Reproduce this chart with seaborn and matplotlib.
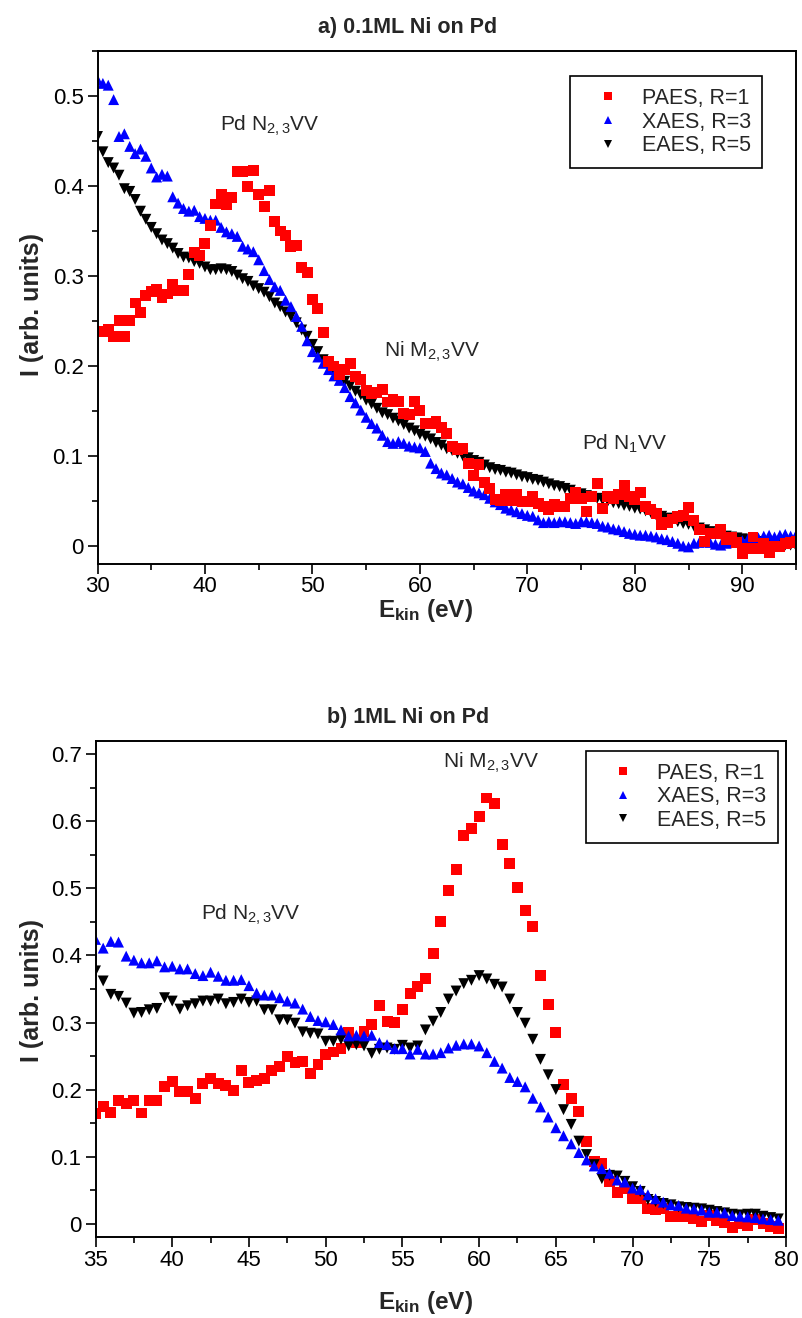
import numpy as np
import pandas as pd
import matplotlib
matplotlib.use("Agg")
import matplotlib.pyplot as plt
import seaborn as sns
from matplotlib.ticker import MultipleLocator, FuncFormatter

sns.set_style("ticks")
plt.rcParams["font.family"] = ["Liberation Sans", "DejaVu Sans"]
plt.rcParams.update({
    "mathtext.fontset": "custom",
    "mathtext.rm": "Liberation Sans",
    "mathtext.it": "Liberation Sans:italic",
    "mathtext.bf": "Liberation Sans:bold",
    "axes.edgecolor": "black",
    "xtick.color": "black",
    "ytick.color": "black",
})

LABELS = ["PAES, R=1", "XAES, R=3", "EAES, R=5"]
COLORS = {"PAES, R=1": "#ff0000", "XAES, R=3": "#0000ff", "EAES, R=5": "#000000"}
MARKERS = {"PAES, R=1": "s", "XAES, R=3": "^", "EAES, R=5": "v"}

# ---- a) 0.1 ML Ni on Pd : spectra on a 0.5 eV grid ----
STEP = 0.5
paes_a_start = 30.5
paes_a = [0.238, 0.241, 0.233, 0.251, 0.233, 0.251, 0.270, 0.259, 0.278, 0.283,
          0.285, 0.276, 0.280, 0.291, 0.284, 0.284, 0.302, 0.326, 0.323, 0.336,
          0.356, 0.380, 0.391, 0.379, 0.387, 0.416, 0.416, 0.399, 0.417, 0.391,
          0.377, 0.395, 0.361, 0.350, 0.345, 0.333, 0.334, 0.309, 0.304, 0.274,
          0.264, 0.237, 0.205, 0.200, 0.190, 0.196, 0.203, 0.188, 0.185, 0.173,
          0.169, 0.171, 0.174, 0.160, 0.163, 0.161, 0.147, 0.146, 0.161, 0.151,
          0.136, 0.136, 0.138, 0.132, 0.125, 0.111, 0.107, 0.108, 0.092, 0.078,
          0.091, 0.071, 0.064, 0.052, 0.051, 0.057, 0.051, 0.057, 0.049, 0.049,
          0.055, 0.047, 0.044, 0.040, 0.046, 0.044, 0.044, 0.053, 0.059, 0.053,
          0.038, 0.055, 0.069, 0.042, 0.055, 0.053, 0.057, 0.067, 0.055, 0.052,
          0.059, 0.044, 0.041, 0.036, 0.024, 0.026, 0.030, 0.033, 0.034, 0.043,
          0.028, 0.018, 0.005, 0.014, 0.014, 0.018, 0.007, 0.010, 0.004, -0.008,
          -0.003, 0.010, -0.003, 0.003, -0.007, -0.001, -0.001, 0.003, 0.004, 0.005]

xaes_a_start = 30.0
xaes_a = [0.518, 0.514, 0.512, 0.496, 0.455, 0.458, 0.444, 0.436, 0.441, 0.433,
          0.420, 0.410, 0.413, 0.411, 0.388, 0.381, 0.375, 0.372, 0.373, 0.366,
          0.364, 0.362, 0.362, 0.354, 0.349, 0.347, 0.344, 0.333, 0.330, 0.327,
          0.318, 0.306, 0.296, 0.288, 0.284, 0.273, 0.266, 0.255, 0.244, 0.228,
          0.216, 0.210, 0.203, 0.196, 0.189, 0.184, 0.176, 0.166, 0.159, 0.151,
          0.143, 0.136, 0.131, 0.123, 0.116, 0.114, 0.116, 0.114, 0.111, 0.110,
          0.109, 0.105, 0.092, 0.086, 0.081, 0.079, 0.075, 0.071, 0.069, 0.065,
          0.061, 0.059, 0.057, 0.053, 0.049, 0.046, 0.042, 0.040, 0.038, 0.036,
          0.034, 0.033, 0.029, 0.026, 0.027, 0.026, 0.027, 0.027, 0.026, 0.025,
          0.027, 0.027, 0.026, 0.025, 0.022, 0.021, 0.019, 0.018, 0.016, 0.014,
          0.013, 0.012, 0.012, 0.011, 0.010, 0.008, 0.007, 0.005, 0.003, 0.000,
          -0.001, 0.003, 0.004, 0.005, 0.004, 0.002, 0.001, 0.003, 0.004, 0.005,
          0.006, 0.007, 0.008, 0.009, 0.011, 0.012, 0.010, 0.012, 0.013, 0.011,
          0.012]

eaes_a_start = 30.0
eaes_a = [0.455, 0.438, 0.426, 0.420, 0.412, 0.397, 0.394, 0.385, 0.372, 0.363,
          0.354, 0.347, 0.340, 0.336, 0.331, 0.325, 0.321, 0.320, 0.316, 0.314,
          0.310, 0.307, 0.307, 0.308, 0.307, 0.305, 0.301, 0.297, 0.294, 0.289,
          0.286, 0.282, 0.277, 0.270, 0.266, 0.260, 0.255, 0.248, 0.240, 0.233,
          0.224, 0.216, 0.207, 0.200, 0.193, 0.188, 0.183, 0.178, 0.172, 0.168,
          0.162, 0.158, 0.153, 0.148, 0.146, 0.142, 0.139, 0.135, 0.131, 0.128,
          0.124, 0.122, 0.119, 0.115, 0.112, 0.108, 0.106, 0.103, 0.100, 0.098,
          0.095, 0.093, 0.090, 0.087, 0.085, 0.084, 0.082, 0.081, 0.079, 0.077,
          0.076, 0.074, 0.073, 0.071, 0.069, 0.067, 0.066, 0.064, 0.062, 0.059,
          0.058, 0.056, 0.055, 0.053, 0.051, 0.050, 0.048, 0.047, 0.045, 0.044,
          0.042, 0.041, 0.039, 0.037, 0.034, 0.033, 0.031, 0.029, 0.027, 0.025,
          0.024, 0.022, 0.020, 0.018, 0.016, 0.014, 0.013, 0.011, 0.010, 0.009,
          0.008, 0.007, 0.006, 0.005, 0.004, 0.004, 0.003, 0.002, 0.001, 0.001,
          0.000]

# ---- b) 1 ML Ni on Pd ----
paes_b_start = 35.0
paes_b = [0.164, 0.175, 0.166, 0.183, 0.179, 0.183, 0.165, 0.183, 0.184, 0.204,
          0.212, 0.197, 0.197, 0.187, 0.209, 0.216, 0.209, 0.206, 0.199, 0.228,
          0.211, 0.213, 0.216, 0.229, 0.235, 0.249, 0.241, 0.242, 0.224, 0.237,
          0.252, 0.256, 0.261, 0.285, 0.270, 0.287, 0.297, 0.325, 0.302, 0.300,
          0.319, 0.343, 0.354, 0.366, 0.403, 0.451, 0.497, 0.528, 0.579, 0.590,
          0.608, 0.635, 0.627, 0.566, 0.537, 0.502, 0.467, 0.443, 0.370, 0.327,
          0.285, 0.207, 0.187, 0.167, 0.123, 0.093, 0.089, 0.063, 0.047, 0.053,
          0.037, 0.038, 0.023, 0.021, 0.022, 0.011, 0.011, 0.010, 0.008, 0.003,
          0.012, 0.005, 0.002, -0.006, 0.000, -0.003, 0.006, 0.000, -0.005, -0.008]

xaes_b_start = 35.0
xaes_b = [0.424, 0.411, 0.421, 0.420, 0.399, 0.393, 0.389, 0.389, 0.392, 0.383,
          0.384, 0.380, 0.380, 0.373, 0.370, 0.375, 0.369, 0.363, 0.363, 0.364,
          0.355, 0.344, 0.341, 0.341, 0.337, 0.332, 0.329, 0.320, 0.309, 0.303,
          0.301, 0.297, 0.289, 0.280, 0.281, 0.280, 0.281, 0.270, 0.267, 0.261,
          0.261, 0.253, 0.260, 0.253, 0.253, 0.255, 0.262, 0.266, 0.268, 0.268,
          0.265, 0.255, 0.242, 0.232, 0.218, 0.212, 0.204, 0.187, 0.174, 0.159,
          0.143, 0.131, 0.119, 0.106, 0.095, 0.086, 0.082, 0.075, 0.065, 0.062,
          0.053, 0.051, 0.043, 0.037, 0.032, 0.028, 0.027, 0.023, 0.022, 0.020,
          0.017, 0.017, 0.016, 0.012, 0.011, 0.010, 0.009, 0.007, 0.006, 0.005]

eaes_b_start = 35.0
eaes_b = [0.377, 0.362, 0.342, 0.339, 0.329, 0.314, 0.315, 0.319, 0.321, 0.337,
          0.332, 0.320, 0.325, 0.328, 0.332, 0.332, 0.335, 0.328, 0.330, 0.335,
          0.330, 0.332, 0.319, 0.319, 0.304, 0.304, 0.299, 0.286, 0.284, 0.283,
          0.272, 0.272, 0.275, 0.265, 0.267, 0.265, 0.254, 0.260, 0.262, 0.260,
          0.266, 0.262, 0.265, 0.289, 0.302, 0.315, 0.335, 0.347, 0.358, 0.363,
          0.370, 0.365, 0.357, 0.353, 0.335, 0.315, 0.299, 0.275, 0.245, 0.222,
          0.200, 0.170, 0.148, 0.123, 0.103, 0.088, 0.067, 0.072, 0.071, 0.063,
          0.055, 0.048, 0.036, 0.033, 0.030, 0.028, 0.025, 0.024, 0.023, 0.022,
          0.020, 0.018, 0.016, 0.014, 0.013, 0.014, 0.014, 0.011, 0.009, 0.007]


def spectrum(start, values, name):
    energy = start + STEP * np.arange(len(values))
    return pd.DataFrame({"E": energy, "I": values, "series": name})


df_a = pd.concat([
    spectrum(eaes_a_start, eaes_a, "EAES, R=5"),
    spectrum(xaes_a_start, xaes_a, "XAES, R=3"),
    spectrum(paes_a_start, paes_a, "PAES, R=1"),
], ignore_index=True)

df_b = pd.concat([
    spectrum(paes_b_start, paes_b, "PAES, R=1"),
    spectrum(eaes_b_start, eaes_b, "EAES, R=5"),
    spectrum(xaes_b_start, xaes_b, "XAES, R=3"),
], ignore_index=True)

W, H = 802, 1318
fig = plt.figure(figsize=(W / 100, H / 100), dpi=100)


def px_axes(left, top, right, bottom):
    return fig.add_axes([left / W, 1 - bottom / H, (right - left) / W, (bottom - top) / H])


ax_a = px_axes(97.5, 51, 796, 564)
ax_b = px_axes(95.5, 741, 786, 1237)


def zero_fmt(v, _):
    return "0" if abs(v) < 1e-9 else f"{v:.1f}"


def draw(ax, df, xlim, ylim, xmaj, xmin, legend_anchor):
    sns.scatterplot(data=df, x="E", y="I", hue="series", style="series",
                    hue_order=LABELS, style_order=LABELS,
                    palette=COLORS, markers=MARKERS, s=62, linewidth=0,
                    ax=ax, legend=True)
    ax.set_xlim(*xlim)
    ax.set_ylim(*ylim)
    ax.xaxis.set_major_locator(MultipleLocator(xmaj))
    ax.xaxis.set_minor_locator(MultipleLocator(xmin))
    ax.yaxis.set_major_locator(MultipleLocator(0.1))
    ax.yaxis.set_minor_locator(MultipleLocator(0.05))
    ax.yaxis.set_major_formatter(FuncFormatter(zero_fmt))
    ax.tick_params(which="major", direction="out", length=7, width=1.2,
                   labelsize=16, top=False, right=False)
    ax.tick_params(axis="x", which="major", pad=2)
    ax.tick_params(axis="y", which="major", pad=3)
    ax.tick_params(which="minor", direction="out", length=4, width=1.2,
                   top=False, right=False)
    for sp in ax.spines.values():
        sp.set_linewidth(1.4)
        sp.set_color("black")
    ax.set_xlabel("")
    ax.set_ylabel("")
    handles, labels = ax.get_legend_handles_labels()
    leg = ax.legend(handles, labels, loc="upper right", bbox_to_anchor=legend_anchor,
                    fontsize=15.5, frameon=True, fancybox=False, edgecolor="black",
                    framealpha=1, borderpad=0.55, labelspacing=0.12,
                    handletextpad=0.35, borderaxespad=0, markerscale=0.8,
                    handlelength=2.4)
    leg.get_frame().set_linewidth(1.2)


draw(ax_a, df_a, (30, 95), (-0.02, 0.55), 10, 5, (0.952, 0.951))
draw(ax_b, df_b, (35, 80), (-0.02, 0.72), 5, 2.5, (0.988, 0.980))

ann = dict(fontsize=15, ha="center", va="center")
ax_a.text(46.0, 0.467, r"Pd N$_{\mathrm{2,3}}$VV", **ann)
ax_a.text(61.1, 0.216, r"Ni M$_{\mathrm{2,3}}$VV", **ann)
ax_a.text(79.0, 0.113, r"Pd N$_{\mathrm{1}}$VV", **ann)
ax_b.text(45.1, 0.461, r"Pd N$_{\mathrm{2,3}}$VV", **ann)
ax_b.text(60.8, 0.688, r"Ni M$_{\mathrm{2,3}}$VV", **ann)

# panel titles and axis labels
fig.text(408 / W, 1 - 28 / H, "a) 0.1ML Ni on Pd", fontsize=15.5, fontweight="bold",
         ha="center", va="center")
fig.text(408 / W, 1 - 718 / H, "b) 1ML Ni on Pd", fontsize=15.5, fontweight="bold",
         ha="center", va="center")
xlab = r"$\mathbf{E_{kin}}$ (eV)"
fig.text(425 / W, 1 - 611 / H, xlab, fontsize=17.5, fontweight="bold", ha="center", va="center")
fig.text(425 / W, 1 - 1302 / H, xlab, fontsize=17.5, fontweight="bold", ha="center", va="center")
fig.text(32 / W, 1 - 305 / H, "I (arb. units)", fontsize=18, fontweight="bold",
         rotation=90, ha="center", va="center")
fig.text(32 / W, 1 - 990 / H, "I (arb. units)", fontsize=18, fontweight="bold",
         rotation=90, ha="center", va="center")

fig.savefig("out.png", dpi=100, facecolor="white")
